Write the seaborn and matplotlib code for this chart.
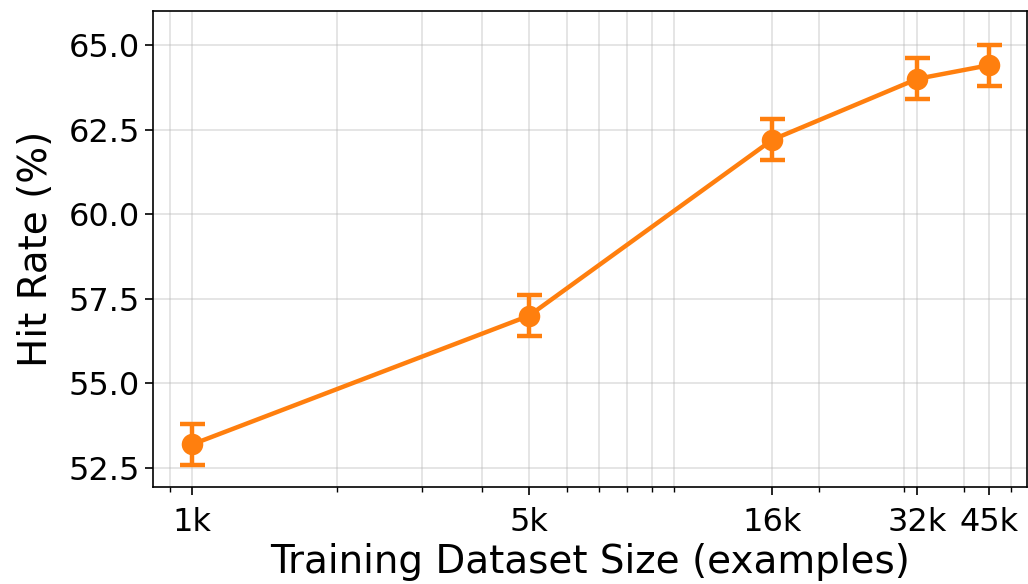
import matplotlib
matplotlib.use("Agg")
import matplotlib.pyplot as plt
import seaborn as sns
import pandas as pd
from matplotlib.ticker import FixedLocator, FixedFormatter, LogLocator, NullFormatter, FormatStrFormatter

sizes = [1000, 5000, 16000, 32000, 45000]
tick_labels = ["1k", "5k", "16k", "32k", "45k"]
hit_rate = [53.2, 57.0, 62.2, 64.0, 64.4]
err = [0.6, 0.6, 0.6, 0.6, 0.6]

df = pd.DataFrame({"size": sizes, "hit": hit_rate})

sns.set_style("white")
plt.rcParams['font.family'] = ['DejaVu Sans']
plt.rcParams['text.color'] = 'black'
plt.rcParams['axes.labelcolor'] = 'black'
plt.rcParams['xtick.color'] = 'black'
plt.rcParams['ytick.color'] = 'black'

fig, ax = plt.subplots(figsize=(10.28, 5.84), dpi=100)
color = "#ff7f0e"
sns.lineplot(data=df, x="size", y="hit", ax=ax, color=color, linewidth=3.2,
             marker="o", markersize=15.5, markeredgewidth=0, zorder=3)
ax.errorbar(sizes, hit_rate, yerr=err, fmt="none", ecolor=color,
            elinewidth=3.2, capsize=9, capthick=3.2, zorder=3)
ax.set_xscale("log")
ax.set_xlim(830, 54000)
ax.set_ylim(51.94, 66.0)
ax.xaxis.set_major_locator(FixedLocator(sizes))
ax.xaxis.set_major_formatter(FixedFormatter(tick_labels))
ax.xaxis.set_minor_locator(LogLocator(base=10, subs=range(1, 10)))
ax.xaxis.set_minor_formatter(NullFormatter())
ax.set_yticks([52.5, 55.0, 57.5, 60.0, 62.5, 65.0])
ax.yaxis.set_major_formatter(FormatStrFormatter("%.1f"))
ax.grid(True, which="both", color="#b0b0b0", alpha=0.35, linewidth=1.3)
ax.tick_params(axis="both", which="major", labelsize=23, length=6, width=1.2,
               bottom=True, left=True, colors="black")
ax.tick_params(axis="x", which="major", pad=8)
ax.tick_params(axis="x", which="minor", length=3.5, width=1, bottom=True)
for s in ax.spines.values():
    s.set_linewidth(1.2)
    s.set_color("black")
ax.set_xlabel("Training Dataset Size (examples)", fontsize=28, labelpad=4)
ax.set_ylabel("Hit Rate (%)", fontsize=28, labelpad=10)
fig.subplots_adjust(left=0.149, right=0.999, top=0.981, bottom=0.166)
fig.savefig("out.png", dpi=100)
